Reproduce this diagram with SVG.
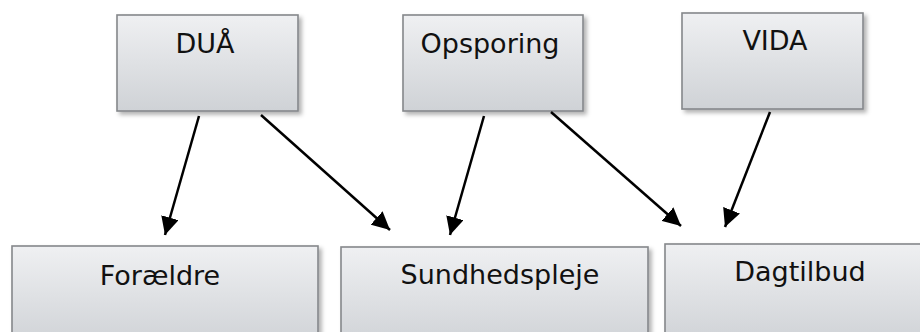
<svg xmlns="http://www.w3.org/2000/svg" width="920" height="332" viewBox="0 0 920 332">
<defs>
<linearGradient id="g" x1="0" y1="0" x2="0" y2="1">
<stop offset="0" stop-color="#eff0f2"/>
<stop offset="1" stop-color="#cfd2d6"/>
</linearGradient>
<filter id="sh" x="-10%" y="-10%" width="130%" height="140%">
<feDropShadow dx="3" dy="3" stdDeviation="2" flood-color="#000" flood-opacity="0.3"/>
</filter>
<marker id="ah" markerUnits="userSpaceOnUse" markerWidth="19" markerHeight="18" refX="18" refY="9" orient="auto">
<path d="M0,0 L18,9 L0,18 z" fill="#000"/>
</marker>
<style>
.box{fill:url(#g);stroke:#85888b;stroke-width:1.6;filter:url(#sh)}
.lbl{font-family:"DejaVu Sans",Verdana,sans-serif;font-size:27px;fill:#111;text-anchor:middle}
.c{stroke:#000;stroke-width:2.5;fill:none;marker-end:url(#ah)}
</style>
</defs>
<g id="n-dua"><rect class="box" x="117" y="15" width="181" height="96"/><text class="lbl" x="205" y="53">DUÅ</text></g>
<g id="n-opsporing"><rect class="box" x="403" y="15" width="180" height="96"/><text class="lbl" x="490" y="53">Opsporing</text></g>
<g id="n-vida"><rect class="box" x="682" y="13" width="181" height="96"/><text class="lbl" x="775" y="50">VIDA</text></g>
<g id="n-foraeldre"><rect class="box" x="12" y="246" width="306" height="100"/><text class="lbl" x="160" y="285">Forældre</text></g>
<g id="n-sundhedspleje"><rect class="box" x="341" y="247" width="307" height="100"/><text class="lbl" x="500" y="284">Sundhedspleje</text></g>
<g id="n-dagtilbud"><rect class="box" x="665" y="244" width="270" height="100"/><text class="lbl" x="800" y="281">Dagtilbud</text></g>
<g id="connectors">
<line class="c" x1="199" y1="116" x2="165" y2="235"/>
<line class="c" x1="261" y1="115" x2="390" y2="230"/>
<line class="c" x1="484" y1="116" x2="450" y2="235"/>
<line class="c" x1="551" y1="112" x2="681" y2="226"/>
<line class="c" x1="770" y1="112" x2="725" y2="227"/>
</g>
</svg>
